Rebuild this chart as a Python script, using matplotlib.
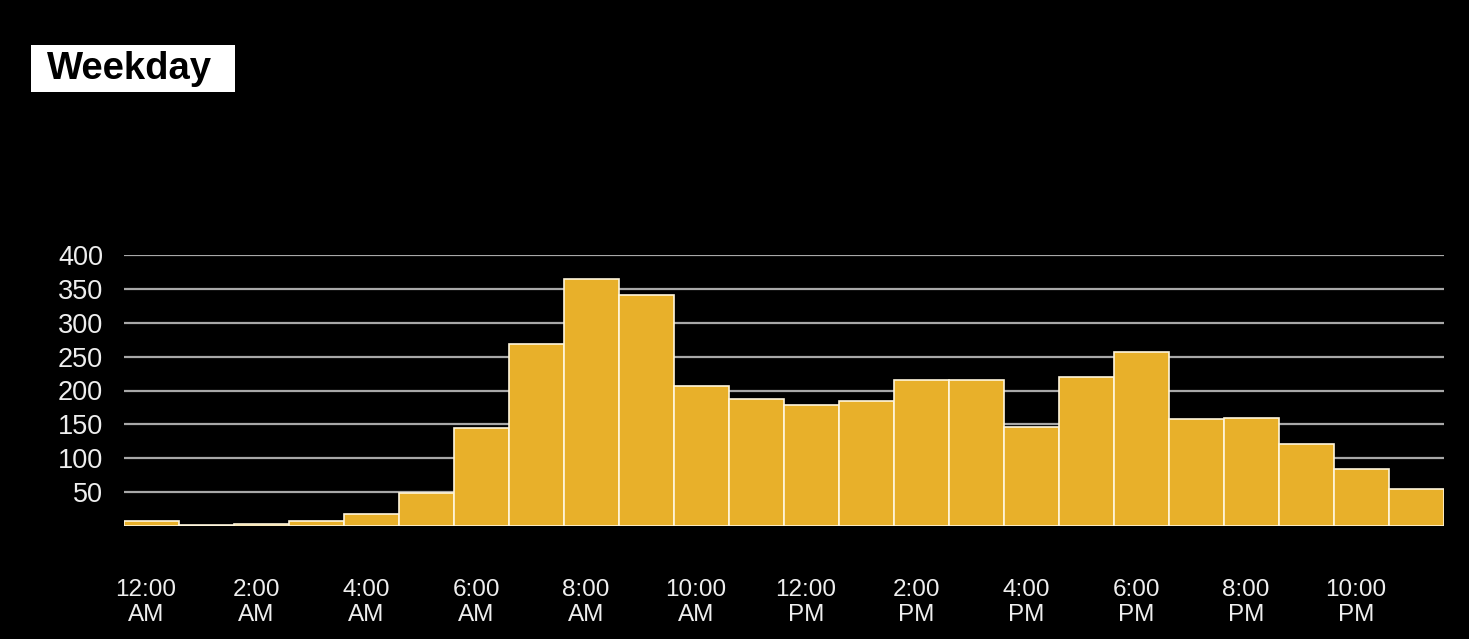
import matplotlib.pyplot as plt
from matplotlib.patches import Rectangle

# hourly counts, 12 AM through 11 PM
hours = list(range(24))
counts = [8, 1.5, 2.5, 8, 18, 49, 145, 268, 365, 341, 206, 187,
          178, 184, 216, 215, 146, 220, 257, 158, 160, 121, 84, 54]

tick_hours = [0, 2, 4, 6, 8, 10, 12, 14, 16, 18, 20, 22]
tick_labels = ['12:00\nAM', '2:00\nAM', '4:00\nAM', '6:00\nAM', '8:00\nAM', '10:00\nAM',
               '12:00\nPM', '2:00\nPM', '4:00\nPM', '6:00\nPM', '8:00\nPM', '10:00\nPM']
y_ticks = [50, 100, 150, 200, 250, 300, 350, 400]

plt.rcParams['font.family'] = ['Liberation Sans', 'DejaVu Sans']

W, H = 1469, 639
fig = plt.figure(figsize=(W / 100, H / 100), dpi=100, facecolor='black')
ax = fig.add_axes([124 / W, 1 - 526 / H, (1444 - 124) / W, (526 - 255) / H])
ax.set_facecolor('black')

ax.bar(hours, counts, width=1, align='edge', color='#E8B02A',
       edgecolor='#fff6dc', linewidth=1.2, zorder=3)

ax.set_xlim(0, 24)
ax.set_ylim(0, 400)
ax.set_yticks(y_ticks)
ax.set_yticklabels([str(v) for v in y_ticks])
ax.set_xticks([h + 0.4 for h in tick_hours])
ax.set_xticklabels(tick_labels, linespacing=1.2)
ax.yaxis.grid(True, color='#a8a8a8', linewidth=1.6, zorder=0)
ax.tick_params(axis='y', length=0, pad=15, labelsize=19.5, labelcolor='#eeeeee')
ax.tick_params(axis='x', length=0, pad=38, labelsize=17.5, labelcolor='#eeeeee')
for s in ax.spines.values():
    s.set_visible(False)

# title badge
fig.patches.append(Rectangle((31 / W, 1 - 92 / H), (235 - 31) / W, 47 / H,
                             transform=fig.transFigure, facecolor='white',
                             edgecolor='none'))
fig.text(47 / W, 1 - 79 / H, 'Weekday', fontsize=27.5, fontweight='bold',
         color='black', ha='left', va='baseline')

fig.savefig('out.png', dpi=100, facecolor='black')
